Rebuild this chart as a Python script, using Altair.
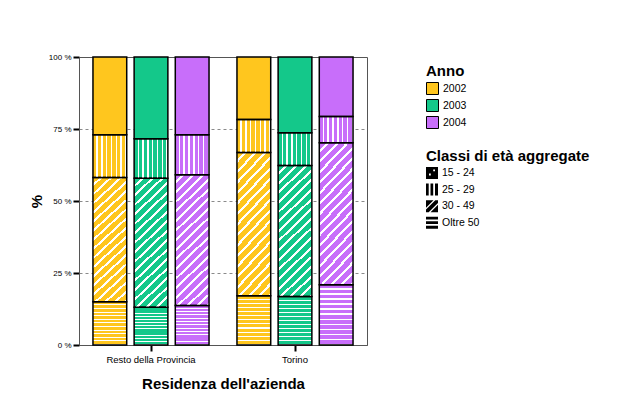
import altair as alt
import pandas as pd

residenze = ["Resto della Provincia", "Torino"]
anni = ["2002", "2003", "2004"]
classi = ["15 - 24", "25 - 29", "30 - 49", "Oltre 50"]
colori_anni = ["#FFC61E", "#14C88A", "#C86EFA"]

# values per bar, listed bottom to top: Oltre 50, 30 - 49, 25 - 29, 15 - 24
classi_stack = ["Oltre 50", "30 - 49", "25 - 29", "15 - 24"]
resto_2002 = [15.0, 43.2, 14.8, 27.0]
resto_2003 = [13.1, 44.8, 13.7, 28.4]
resto_2004 = [13.7, 45.4, 13.9, 27.0]
torino_2002 = [17.1, 49.7, 11.5, 21.7]
torino_2003 = [16.8, 45.5, 11.4, 26.3]
torino_2004 = [20.9, 49.3, 9.1, 20.7]

serie = {
    ("Resto della Provincia", "2002"): resto_2002,
    ("Resto della Provincia", "2003"): resto_2003,
    ("Resto della Provincia", "2004"): resto_2004,
    ("Torino", "2002"): torino_2002,
    ("Torino", "2003"): torino_2003,
    ("Torino", "2004"): torino_2004,
}
rows = []
for (res, anno), vals in serie.items():
    for i, (c, v) in enumerate(zip(classi_stack, vals)):
        rows.append({"res": res, "anno": anno, "cls": c, "ord": i, "pct": v})
df = pd.DataFrame(rows)

# ---- stripe patterns built as hard-stop linear gradients (style only) ----
CLEAR = "rgba(255,255,255,0)"
WHITE = "#ffffff"


def stripes(n, frac, x2, y2):
    stops = []
    for k in range(n):
        a = k / n
        b = (k + 1 - frac) / n
        c = (k + 1) / n
        stops += [
            {"offset": a, "color": CLEAR},
            {"offset": b, "color": CLEAR},
            {"offset": b, "color": WHITE},
            {"offset": c, "color": WHITE},
        ]
    return {"gradient": "linear", "x1": 0, "y1": 0, "x2": x2, "y2": y2, "stops": stops}


r = 0.25
k = (r + 1) / (r * r + 1)
grad_h = stripes(12, 0.28, 0, 1)
grad_v = stripes(7, 0.3, 1, 0)
grad_d = stripes(17, 0.3, k * r, k)

# legend symbols for the age classes (black squares with white patterns)
sym_dots = ("M-1,-1H1V1H-1Z M0.2,-0.6V-0.3H0.5V-0.6Z M-0.5,0.1V0.4H-0.2V0.1Z")
sym_vert = "M-1,-1H-0.55V1H-1Z M-0.25,-1H0.2V1H-0.25Z M0.5,-1H1V1H0.5Z"
sym_diag = ("M-1,-1L0.25,-1L-1,0.25Z M0.55,-1L1,-1L1,-0.55L-0.55,1L-1,1L-1,0.55Z "
            "M1,-0.25L1,1L-0.25,1Z")
sym_horz = "M-1,-1H1V-0.55H-1Z M-1,-0.25H1V0.2H-1Z M-1,0.5H1V1H-1Z"
simboli = [sym_dots, sym_vert, sym_diag, sym_horz]

FONT = "Liberation Sans"

x_enc = alt.X(
    "res:N",
    sort=residenze,
    scale=alt.Scale(paddingInner=0.194, paddingOuter=0.097),
    axis=alt.Axis(
        title="Residenza dell'azienda",
        labelAngle=0,
        bandPosition=0.5,
        labelFontSize=9.5,
        labelPadding=3,
        titleFontSize=15,
        titleFontWeight="bold",
        titleY=38,
        titleBaseline="middle",
        domainColor="#555555",
        grid=False,
    ),
)
xo_enc = alt.XOffset("anno:N", sort=anni, scale=alt.Scale(paddingInner=0.18, paddingOuter=0))
y_axis = alt.Axis(
    title="%",
    values=[0, 0.25, 0.5, 0.75, 1],
    labelExpr="format(datum.value * 100, 'd') + ' %'",
    labelFontSize=8,
    labelPadding=2,
    titleFontSize=15,
    titleFontWeight="bold",
    titleX=-43,
    titleY=144,
    titleBaseline="middle",
    titleAngle=270,
    domainColor="#555555",
    grid=True,
    gridDash=[3, 3],
    gridColor={"condition": {"test": "datum.value === 0 || datum.value === 1", "value": "transparent"},
               "value": "#8a8a8a"},
)
y_enc = alt.Y("y0:Q", scale=alt.Scale(domain=[0, 1], nice=False), axis=y_axis)

base = alt.Chart(df).transform_stack(
    stack="pct",
    groupby=["res", "anno"],
    as_=["y0", "y1"],
    offset="normalize",
    sort=[alt.SortField("ord", order="ascending")],
).transform_calculate(ymid="(datum.y0 + datum.y1) / 2")

legend_common = dict(
    orient="none",
    padding=0,
    titleFontSize=15,
    titleFontWeight="bold",
    titleFont=FONT,
    titlePadding=3,
    labelFontSize=10.5,
    labelFont=FONT,
    labelColor="black",
    labelOffset=4,
    symbolSize=144,
    legendX=347,
)

hidden_pts = base.mark_point(filled=True, size=1, color="black").encode(
    x=x_enc,
    xOffset=xo_enc,
    y=alt.Y("ymid:Q", scale=alt.Scale(domain=[0, 1], nice=False), axis=y_axis),
    shape=alt.Shape(
        "cls:N",
        scale=alt.Scale(domain=classi, range=simboli),
        legend=alt.Legend(
            title="Classi di età aggregate",
            legendY=92,
            rowPadding=4.6,
            symbolFillColor="black",
            symbolStrokeWidth=0,
            symbolOpacity=1,
            **legend_common,
        ),
    ),
)

bars = base.mark_bar(stroke=None).encode(
    x=x_enc,
    xOffset=xo_enc,
    y=y_enc,
    y2="y1:Q",
    color=alt.Color(
        "anno:N",
        scale=alt.Scale(domain=anni, range=colori_anni),
        legend=alt.Legend(
            title="Anno",
            legendY=7,
            rowPadding=0,
            symbolType="square",
            symbolStrokeColor="black",
            symbolStrokeWidth=1,
            **legend_common,
        ),
    ),
)

overlay = base.mark_bar(stroke="black", strokeWidth=1.5).encode(
    x=x_enc,
    xOffset=xo_enc,
    y=y_enc,
    y2="y1:Q",
    fill={
        "condition": [
            {"test": "datum.cls === 'Oltre 50'", "value": grad_h},
            {"test": "datum.cls === '30 - 49'", "value": grad_d},
            {"test": "datum.cls === '25 - 29'", "value": grad_v},
        ],
        "value": CLEAR,
    },
)

chart = (
    alt.layer(hidden_pts, bars, overlay)
    .properties(
        width=288,
        height=288,
        autosize=alt.AutoSizeParams(type="none"),
        padding={"left": 79, "top": 57, "right": 257, "bottom": 74},
    )
    .configure(font=FONT, background="white")
    .configure_view(stroke="#555555", strokeWidth=1)
    .configure_axis(
        tickColor="black",
        tickWidth=2,
        tickSize=6,
        labelColor="black",
        titleColor="black",
        labelFont=FONT,
        titleFont=FONT,
    )
)

chart.save("out.html", embed_options={"renderer": "svg", "actions": False})
